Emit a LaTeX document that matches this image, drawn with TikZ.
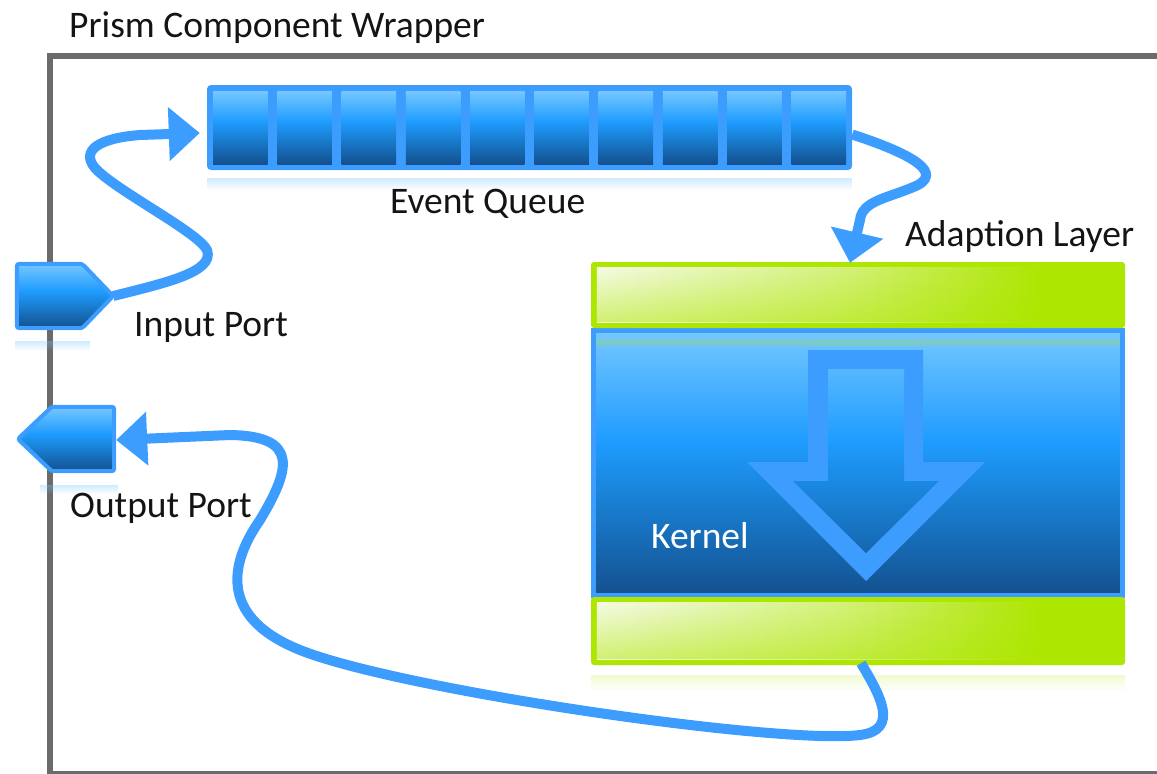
\documentclass[tikz,border=0pt]{standalone}
\usepackage{fontspec}
\setmainfont{Carlito}
\usetikzlibrary{arrows.meta,fadings,calc}

\definecolor{pblue}{RGB}{61,157,255}
\definecolor{blight}{RGB}{118,199,255}
\definecolor{bmid}{RGB}{30,156,255}
\definecolor{bmid2}{RGB}{24,120,200}
\definecolor{bdark}{RGB}{20,80,143}
\definecolor{barlime}{RGB}{173,230,0}
\definecolor{glossw}{RGB}{245,251,228}
\colorlet{glossmid}{barlime!45!glossw}
\definecolor{framegray}{RGB}{107,107,107}
\definecolor{ink}{RGB}{20,20,20}

% blue body gradient: light top, saturated middle, dark bottom
\pgfdeclareverticalshading{bluebox}{100bp}{color(0bp)=(bdark); color(25bp)=(bdark); color(40bp)=(bmid2); color(54bp)=(bmid); color(75bp)=(blight); color(100bp)=(blight)}
% glossy highlight on the green layer bars
\pgfdeclarehorizontalshading{gloss}{100bp}{color(0bp)=(glossw); color(25bp)=(glossw); color(48bp)=(glossmid); color(68bp)=(barlime); color(100bp)=(barlime)}

\tikzset{
  labeltext/.style={inner sep=0pt, anchor=base west, text=ink},
  flow/.style={draw=pblue, line width=10pt, line join=round},
  tipflow/.style={-{Triangle[length=31pt,width=52pt]}},
  portbox/.style={rectangle, inner sep=0pt, minimum width=96pt, minimum height=64pt},
  portbody/.style={draw=pblue, line width=4pt, shading=bluebox, rounded corners=2.5pt},
  cellbox/.style={rectangle, shading=bluebox, minimum width=54.6pt,
    minimum height=73pt, inner sep=0pt},
  greenbar/.style={rectangle, fill=barlime, rounded corners=3pt,
    minimum width=534pt, inner sep=0pt},
  bluemirror/.style={fill=blight, path fading=south, opacity=0.35},
  greenmirror/.style={fill=barlime, path fading=south, opacity=0.18},
}

\begin{document}
\begin{tikzpicture}[x=1pt, y=-1pt, font=\fontsize{37.5}{45}\selectfont]
\useasboundingbox (0,0) rectangle (1157,774);

% wrapper frame (runs past the right edge)
\begin{scope}
  \clip (0,0) rectangle (1157,774);
  \draw[framegray, line width=6pt] (50,56) rectangle (1200,774);
\end{scope}

% event queue
\node[rectangle, fill=pblue, rounded corners=4pt, minimum width=645pt,
      minimum height=85pt, inner sep=0pt] (queue) at (529.5,127.5) {};
\foreach \i in {0,...,9}
  \node[cellbox] (cell\i) at ({240.3+64.27*\i},127.5) {};
\fill[bluemirror] ($(queue.south west)+(0,8)$) rectangle ($(queue.south east)+(0,20)$);

% input port: pentagon pointing east
\node[portbox] (inport) at (65,296) {};
\path[portbody] (inport.north west) -- ($(inport.north east)+(-31,0)$) -- (inport.east)
  -- ($(inport.south east)+(-31,0)$) -- (inport.south west) -- cycle;
\fill[bluemirror] (15,341) rectangle (90,351);

% output port: pentagon pointing west
\node[portbox] (outport) at (66,439) {};
\path[portbody] (outport.north east) -- ($(outport.north west)+(34,0)$) -- (outport.west)
  -- ($(outport.south west)+(34,0)$) -- (outport.south east) -- cycle;
\fill[bluemirror] (40,485) rectangle (118,494);

% kernel with its adaption layer
\node[rectangle, draw=pblue, line width=5pt, shading=bluebox,
      minimum width=529pt, minimum height=265pt, inner sep=0pt] (kernel) at (858,463) {};
\fill[barlime, opacity=0.2] (596,339) rectangle (1120,346);

% hollow down arrow inside the kernel
\fill[pblue] (808,350) -- (923,350) -- (923,462) -- (985,462) -- (866,581)
  -- (747,462) -- (808,462) -- cycle;
\begin{scope}
  \clip (828,369) -- (904,369) -- (904,481) -- (939,481) -- (866,553)
    -- (793,481) -- (828,481) -- cycle;
  \shade[shading=bluebox] (kernel.north west) rectangle (kernel.south east);
\end{scope}

\node[greenbar, minimum height=66pt] (adtop) at (858,295) {};
\node[greenbar, minimum height=68pt] (adbot) at (858,631) {};
\foreach \b in {adtop,adbot} {
  \shade[shading=gloss] ($(\b.north west)+(6,6)$) rectangle ($(\b.south east)+(-6,-6)$);
  \fill[barlime, path fading=north, opacity=0.5]
    ($(\b.north west)+(6,6)$) rectangle ($(\b.south east)+(-6,-6)$);
}
\fill[greenmirror] ($(adbot.south west)+(0,10)$) rectangle ($(adbot.south east)+(0,26)$);

% connector end points
\coordinate (qin) at ($(queue.west)+(-7,5.5)$);
\coordinate (qout) at ($(queue.east)+(0,7)$);
\coordinate (ain) at ($(adtop.north)+(-8,1)$);
\coordinate (bout) at ($(adbot.south)+(3,-2)$);
\coordinate (oin) at ($(outport.east)+(2,1)$);

% event flow
\draw[flow, tipflow] (inport.east) .. controls (165,283) and (215,272) .. (207,250)
  .. controls (198,232) and (115,190) .. (95,168)
  .. controls (80,150) and (100,138) .. (140,135) -- (qin);
\draw[flow, tipflow] (qout) .. controls (900,150) and (945,170) .. (918,185)
  .. controls (890,198) and (862,200) .. (860,220) -- (ain);
\draw[flow, tipflow] (bout) .. controls (880,695) and (900,730) .. (860,735)
  .. controls (780,745) and (400,690) .. (300,650)
  .. controls (225,620) and (225,570) .. (260,520)
  .. controls (290,470) and (300,436) .. (230,435) -- (oin);

% labels
\node[labeltext] (title) at (69,37) {Prism Component Wrapper};
\node[labeltext] (qlabel) at (390,213) {Event Queue};
\node[labeltext] (alabel) at (905,246) {Adaption Layer};
\node[labeltext] (ilabel) at (134,336) {Input Port};
\node[labeltext] (olabel) at (70,517) {Output Port};
\node[labeltext, text=white] (klabel) at (651,548) {Kernel};
\end{tikzpicture}
\end{document}
